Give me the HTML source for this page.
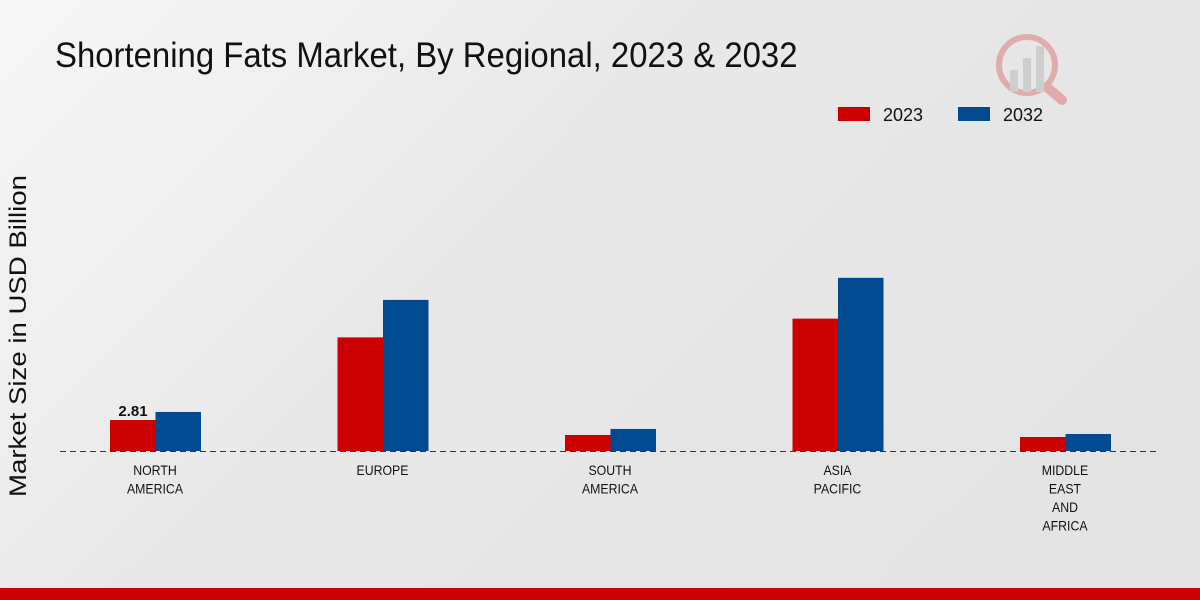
<!DOCTYPE html>
<html><head><meta charset="utf-8"><style>
body{margin:0;width:1200px;height:600px;overflow:hidden;background:linear-gradient(135deg,#f7f7f7 0%,#e8e8e8 40%,#e3e3e3 100%);font-family:"Liberation Sans",sans-serif;position:relative}
#title{position:absolute;left:55px;top:36px;font-size:35px;color:#111;transform:scaleX(0.94);transform-origin:left top;white-space:nowrap}
#footer{position:absolute;left:0;top:588px;width:1200px;height:12px;background:#cc0000}
</style></head><body>
<div id="title">Shortening Fats Market, By Regional, 2023 &amp; 2032</div>
<svg id="chart" width="1200" height="600" style="position:absolute;left:0;top:0">
<g opacity="0.25">
<circle cx="1027" cy="65" r="28" fill="none" stroke="#c00" stroke-width="6"/>
<line x1="1048" y1="88" x2="1062" y2="100" stroke="#c00" stroke-width="10" stroke-linecap="round"/>
<rect x="1010" y="70" width="8" height="22" fill="#888"/><rect x="1023" y="58" width="8" height="34" fill="#888"/><rect x="1036" y="46" width="8" height="46" fill="#888"/>
</g>
<text x="26" y="336" transform="rotate(-90 26 336)" text-anchor="middle" font-size="24" fill="#111" textLength="322" lengthAdjust="spacingAndGlyphs">Market Size in USD Billion</text>
<g id="legend"></g>
<g id="bars"></g>
<line x1="60" y1="451.5" x2="1160" y2="451.5" stroke="#333" stroke-dasharray="6,4"/>
<g id="labels"></g>
</svg>
<div id="footer"></div>
<script>
const categories=[["NORTH","AMERICA"],["EUROPE"],["SOUTH","AMERICA"],["ASIA","PACIFIC"],["MIDDLE","EAST","AND","AFRICA"]];
const values2023=[2.81,10.3,1.45,12.0,1.27];
const values2032=[3.54,13.7,2.0,15.7,1.54];
const seriesNames=["2023","2032"];
const colors=["#cc0000","#004a8f"];
const ns="http://www.w3.org/2000/svg";
const base=451,scale=11.03;
const y=v=>base-v*scale;
const xc=i=>155+i*227.5;
const bars=document.getElementById('bars'),labels=document.getElementById('labels'),legend=document.getElementById('legend');
function mk(t,a){const e=document.createElementNS(ns,t);for(const k in a)e.setAttribute(k,a[k]);return e;}
[values2023,values2032].forEach((vals,s)=>{vals.forEach((v,i)=>{
 const r=mk('rect',{x:xc(i)-45+s*45.5,y:y(v),width:45.5,height:base-y(v),fill:colors[s]});
 
 
 bars.appendChild(r);});});
const vl=mk('text',{x:xc(0)-22,y:y(values2023[0])-4,'text-anchor':'middle','font-size':15,'font-weight':'bold',fill:'#111'});
vl.textContent=values2023[0];


labels.appendChild(vl);
categories.forEach((c,i)=>{c.forEach((ln,j)=>{
 const t=mk('text',{x:xc(i),y:475+j*18.5,'text-anchor':'middle','font-size':14,fill:'#111',transform:`translate(${xc(i)*0.12},0) scale(0.88,1)`});
 t.textContent=ln;
 
 
 labels.appendChild(t);});});
seriesNames.forEach((n,s)=>{
 const lx=838+s*120;
 const r=mk('rect',{x:lx,y:107,width:32,height:14,fill:colors[s]});
 
 
 legend.appendChild(r);
 const t=mk('text',{x:lx+45,y:121,'font-size':18,fill:'#111',textLength:40,lengthAdjust:'spacingAndGlyphs'});
 t.textContent=n;
 
 
 legend.appendChild(t);});
</script>
</body></html>
